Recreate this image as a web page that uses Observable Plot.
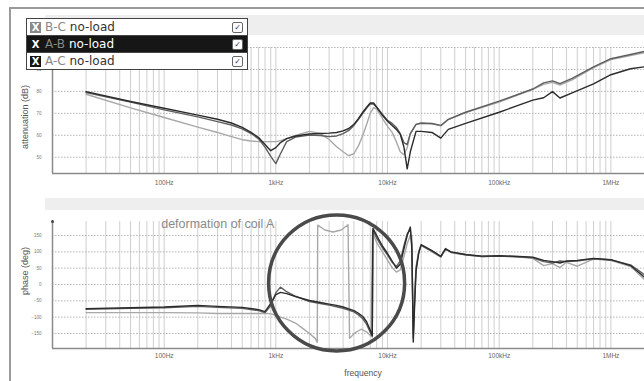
<!DOCTYPE html>
<html><head><meta charset="utf-8">
<script src="https://cdn.jsdelivr.net/npm/d3@7"></script>
<script src="https://cdn.jsdelivr.net/npm/@observablehq/plot@0.6"></script>
<style>
body{margin:0;background:#fff;}
#wrap{position:relative;width:644px;height:381px;overflow:hidden;background:#fff;font-family:"Liberation Sans",Arial,sans-serif;}
.abs{position:absolute;}
.vt{position:absolute;transform:translate(-50%,-50%) rotate(-90deg);white-space:nowrap;color:#555;font-size:9px;}
.row{position:relative;height:16px;line-height:16px;font-size:12px;font-family:"DejaVu Sans",sans-serif;}
.xi{position:absolute;left:3px;top:3px;width:11px;height:11px;line-height:11px;text-align:center;font-size:10px;font-weight:bold;}
.ci{position:absolute;right:4px;top:3px;width:9px;height:9px;border:1px solid #666;border-radius:2px;line-height:9px;text-align:center;font-size:8px;background:#fff;color:#333;}
.lt{position:absolute;left:18px;top:0;}
</style></head><body>
<div id="wrap">
  <div class="abs" style="left:9px;top:7px;width:640px;height:380px;border-left:2px solid #9a9a9a;border-top:2px solid #9a9a9a;"></div>
  <div class="abs" style="left:45px;top:15px;width:600px;height:20px;background:#eeeeee"></div>
  <div class="abs" style="left:45px;top:198px;width:600px;height:12px;background:#eeeeee"></div>
  <div id="top" class="abs" style="left:0;top:0"></div>
  <div id="bot" class="abs" style="left:0;top:195px"></div>
  <div class="vt" style="left:25px;top:117px;">attenuation (dB)</div>
  <div class="vt" style="left:25px;top:271px;">phase (deg)</div>
  <div class="abs" style="left:363px;top:373px;transform:translate(-50%,-50%);font-size:8.5px;color:#555;">frequency</div>
  <div id="legend" class="abs" style="left:26px;top:18px;width:220px;border:1px solid #444;background:#fff;">
    <div class="row" style="background:#fff;border-bottom:1px solid #444;">
      <div class="xi" style="background:#8a8a8a;color:#fff;">X</div>
      <div class="lt"><span style="color:#888">B-C</span> <span style="color:#333">no-load</span></div>
      <div class="ci">✓</div>
    </div>
    <div class="row" style="background:#161616;border-bottom:1px solid #444;">
      <div class="xi" style="background:#161616;color:#fff;">X</div>
      <div class="lt"><span style="color:#888">A-B</span> <span style="color:#fff">no-load</span></div>
      <div class="ci">✓</div>
    </div>
    <div class="row" style="background:#fff;">
      <div class="xi" style="background:#161616;color:#fff;">X</div>
      <div class="lt"><span style="color:#888">A-C</span> <span style="color:#333">no-load</span></div>
      <div class="ci">✓</div>
    </div>
  </div>
</div>
<script>
// ---- data ----
const seriesNames = ["A-B", "A-C", "B-C"];
const seriesColors = ["#2b2b2b", "#5e5e5e", "#a8a8a8"];

const xTickValues = [100, 1000, 10000, 100000, 1000000];
const xTickLabels = ["100Hz", "1kHz", "10kHz", "100kHz", "1MHz"];
const attTicks = [50, 60, 70, 80, 90];
const phTicks = [-150, -100, -50, 0, 50, 100, 150];

const attFreq = [20, 50, 100, 200, 300, 400, 500, 600, 700, 800,
  900, 1000, 1100, 1250, 1500, 2000, 2500, 3000, 3500, 4000,
  4500, 5000, 5500, 6000, 6500, 7000, 7500, 8000, 9000, 10000,
  11000, 12000, 13000, 14000, 15000, 16000, 18000, 20000, 25000, 30000,
  35000, 50000, 100000, 200000, 250000, 300000, 350000, 450000, 700000, 1e6,
  1.5e6, 2e6];
const attAB = [79.9, 75.4, 72.3, 69.2, 67.3, 65.6, 63.6, 61.3, 59, 55.8,
  53, 54.4, 56.7, 58.5, 59.7, 60.6, 60.8, 61, 61.3, 62,
  63.1, 65, 67.7, 70.5, 72.8, 74.7, 74.7, 72.8, 69.1, 66.4,
  64.5, 62.7, 60.4, 54.8, 44.7, 52.5, 61.8, 61.8, 61.3, 58.7,
  62.7, 65.4, 70.5, 76, 77.1, 79.9, 77, 79.3, 83.4, 87.6,
  90.3, 91.2];
const attAC = [79.5, 75.1, 71.6, 68.4, 66.2, 64.7, 62.9, 60.8, 58.4, 54.6,
  50.4, 47.1, 51.6, 57.1, 59.2, 60.1, 59.9, 59.4, 59.7, 60.8,
  62.2, 64.5, 67.3, 70, 72.4, 74.4, 74.2, 72.8, 69.6, 66.8,
  65.4, 63.6, 60.8, 56.7, 55.8, 60.8, 65, 65.6, 65.4, 64.5,
  67.3, 70.5, 75.6, 81.1, 83.9, 84.8, 83.5, 85.9, 91.2, 94.9,
  96.8, 98.2];
const attBC = [78.7, 72.5, 68.1, 63.7, 61.3, 59.4, 58, 57.4, 57.1, 57.1,
  57.1, 57.1, 57.6, 58.5, 59.9, 61.8, 60.8, 58.1, 54.8, 52.5,
  50.7, 51.6, 55.3, 59.9, 65, 70, 72.6, 71.9, 67.7, 64.1,
  61.3, 57.1, 52.5, 51.2, 54.4, 60.8, 65, 65.4, 65.2, 64.3,
  67.1, 70.3, 75.1, 80.9, 83.2, 84.1, 82.9, 85.3, 90.8, 94.5,
  96.3, 97.7];

const phFreq = [20, 50, 100, 200, 300, 500, 700, 800, 900, 1000,
  1100, 1250, 1500, 2000, 2500, 3000, 3500, 4000, 5000, 5500,
  6000, 6500, 7000, 7300, 7400, 8000, 9000, 10000, 11000, 12000,
  13000, 14000, 15000, 16000, 16500, 17000, 17500, 18000, 19000, 20000,
  25000, 30000, 33000, 37000, 50000, 70000, 100000, 150000, 200000, 250000,
  300000, 350000, 400000, 500000, 700000, 1e6, 1.5e6, 2e6];
const phAB = [-74, -71, -69, -64, -67, -70, -77, -83, -58, -31,
  -24, -28, -37, -49, -55, -60, -64, -69, -80, -88,
  -98, -114, -140, -156, 172, 150, 118, 95, 72, 50,
  62, 108, 150, 176, 110, -176, -60, 40, 95, 122,
  104, 86, 110, 100, 92, 87, 88, 86, 84, 74,
  70, 66, 72, 74, 80, 76, 58, 22];
const phAC = [-76, -73, -71, -67, -70, -73, -80, -86, -65, -25,
  -8, -22, -36, -52, -58, -63, -68, -73, -84, -93,
  -105, -122, -146, -160, 166, 142, 112, 90, 68, 55,
  72, 118, 155, 170, 125, -165, -45, 48, 98, 120,
  102, 85, 108, 99, 91, 86, 87, 85, 82, 70,
  66, 72, 70, 72, 79, 75, 60, 30];

const phFreqBC = [20, 50, 100, 200, 300, 500, 700, 800, 900, 1000,
  1100, 1250, 1500, 1750, 2000, 2250, 2350, 2370, 2750, 3250,
  3850, 4430, 4570, 5120, 5800, 6550, 7100, 7340, 8000, 9000,
  10000, 11000, 12000, 13000, 14000, 15000, 16000, 16500, 17000, 17500,
  18000, 19000, 20000, 25000, 30000, 33000, 37000, 50000, 70000, 100000,
  150000, 200000, 250000, 300000, 350000, 400000, 500000, 700000, 1e6, 1.5e6,
  2e6];
const phBC = [-86, -86, -86, -87, -89, -89, -89, -88, -90, -94,
  -100, -106, -118, -135, -150, -165, -177, 182, 167, 161,
  167, 183, -165, -148, -137, -146, -158, 160, 128, 100,
  75, 52, 38, 45, 85, 125, 150, 148, -150, -30,
  55, 100, 120, 100, 84, 108, 98, 90, 86, 87,
  84, 80, 58, 64, 52, 68, 56, 78, 74, 55,
  15];

const annotation = [{f: 94, text: "deformation of coil A"}];
const circleMark = [{f: 3500, v: 5}];

// ---- build tables ----
function rows(freqs, vals, s) { return freqs.map((f, i) => ({f, v: vals[i], s})); }
const attRows = [...rows(attFreq, attBC, "B-C"), ...rows(attFreq, attAC, "A-C"), ...rows(attFreq, attAB, "A-B")];
const phRows = [...rows(phFreqBC, phBC, "B-C"), ...rows(phFreq, phAC, "A-C"), ...rows(phFreq, phAB, "A-B")];

const gridX = [];
for (let dec = 10; dec <= 1e6; dec *= 10) for (let k = 1; k <= 9; k++) { const g = dec * k; if (g >= 20 && g <= 2e6) gridX.push(g); }
gridX.push(2e6);
const labelOf = new Map(xTickValues.map((d, i) => [d, xTickLabels[i]]));

const X_DOMAIN = [10, 2e6];
const ATT_DOMAIN = [42.6, 100];
const PH_DOMAIN = [-196, 193];
const common = {
  width: 644, marginLeft: 52, marginRight: 0,
  style: {background: "transparent", fontFamily: "Liberation Sans, Arial, sans-serif", overflow: "visible"},
  color: {domain: seriesNames, range: seriesColors}
};

const topPlot = Plot.plot({
  ...common, height: 195, marginTop: 47, marginBottom: 22,
  x: {type: "log", domain: X_DOMAIN, axis: null},
  y: {domain: ATT_DOMAIN, axis: null},
  marks: [
    Plot.ruleX(gridX, {stroke: "#cfcfcf", strokeWidth: 1}),
    Plot.ruleY([...attTicks, 100], {stroke: "#b5b5b5", strokeDasharray: "1.5,1.5"}),
    Plot.line(attRows, {x: "f", y: "v", z: "s", stroke: "s", strokeWidth: 1.4}),
    Plot.ruleX([X_DOMAIN[0]], {stroke: "#8a8a8a", strokeWidth: 1.5}),
    Plot.ruleY([ATT_DOMAIN[0]], {stroke: "#8a8a8a", strokeWidth: 1.5}),
    Plot.axisX(xTickValues, {tickFormat: d => labelOf.get(d), tickSize: 0, tickPadding: 7, fontSize: 6.5, fill: "#666", label: null}),
    Plot.axisY(attTicks, {tickSize: 0, tickPadding: 11, fontSize: 4.5, fill: "#777", label: null})
  ]
});
document.getElementById("top").appendChild(topPlot);

const botPlot = Plot.plot({
  ...common, height: 186, marginTop: 26, marginBottom: 33,
  x: {type: "log", domain: X_DOMAIN, axis: null},
  y: {domain: PH_DOMAIN, axis: null},
  marks: [
    Plot.ruleX(gridX, {stroke: "#cfcfcf", strokeWidth: 1}),
    Plot.ruleY(phTicks, {stroke: "#b5b5b5", strokeDasharray: "1.5,1.5"}),
    Plot.line(phRows, {x: "f", y: "v", z: "s", stroke: "s", strokeWidth: 1.4}),
    Plot.ruleX([X_DOMAIN[0]], {stroke: "#8a8a8a", strokeWidth: 1.5}),
    Plot.ruleY([PH_DOMAIN[0]], {stroke: "#8a8a8a", strokeWidth: 1.5}),
    Plot.dot([{f: X_DOMAIN[0], v: PH_DOMAIN[1]}], {x: "f", y: "v", r: 1.5, fill: "#444"}),
    Plot.axisX(xTickValues, {tickFormat: d => labelOf.get(d), tickSize: 0, tickPadding: 5, fontSize: 6.5, fill: "#666", label: null}),
    Plot.axisY(phTicks, {tickSize: 0, tickPadding: 11, fontSize: 4.5, fill: "#777", label: null}),
    Plot.dot(circleMark, {x: "f", y: "v", r: 68, stroke: "#4a4a4a", strokeWidth: 3.5, fill: "none"}),
    Plot.text(annotation, {x: "f", text: "text", frameAnchor: "top", dy: -2, textAnchor: "start", fontSize: 12.5, fill: "#8a8a8a"})
  ]
});
document.getElementById("bot").appendChild(botPlot);
</script>
</body></html>
